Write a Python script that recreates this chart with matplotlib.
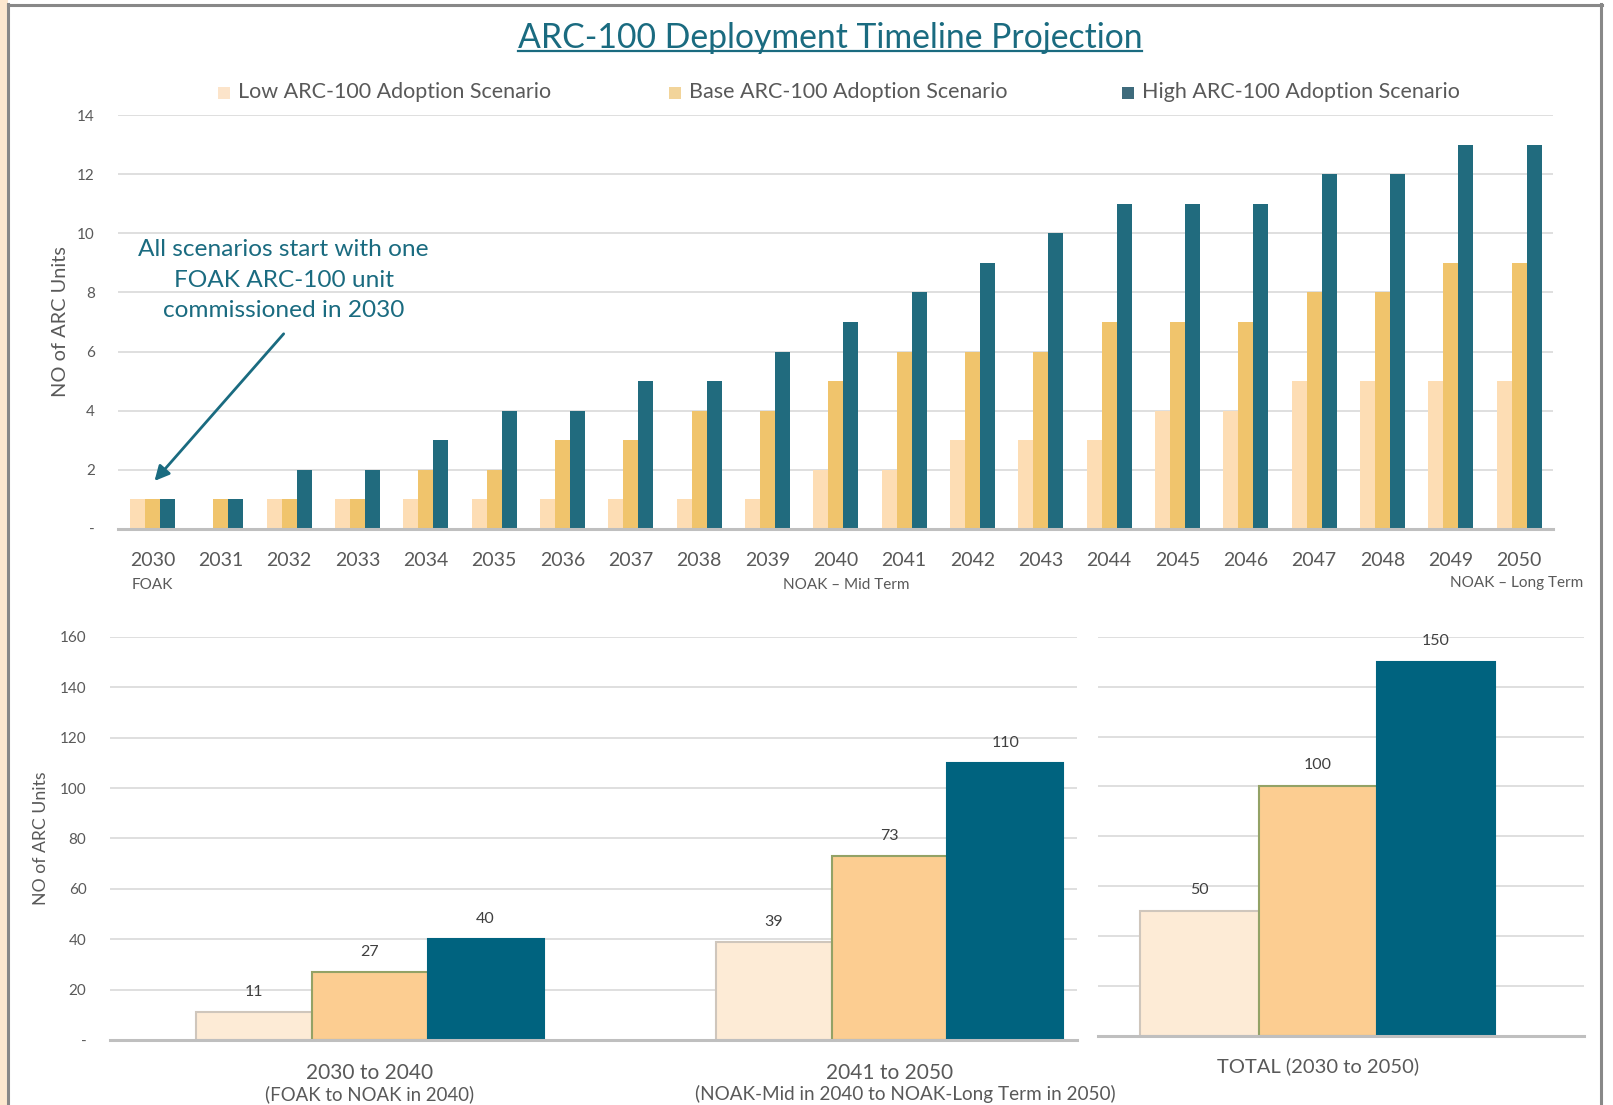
import matplotlib
matplotlib.use("Agg")
import matplotlib.pyplot as plt
import numpy as np
from matplotlib.patches import Rectangle
from matplotlib.lines import Line2D

plt.rcParams['font.family'] = ['Lato', 'DejaVu Sans']

# ---------------- data ----------------
years = [str(y) for y in range(2030, 2051)]
low_units = [1, 0, 1, 1, 1, 1, 1, 1, 1, 1, 2, 2, 3, 3, 3, 4, 4, 5, 5, 5, 5]
base_units = [1, 1, 1, 1, 2, 2, 3, 3, 4, 4, 5, 6, 6, 6, 7, 7, 7, 8, 8, 9, 9]
high_units = [1, 1, 2, 2, 3, 4, 4, 5, 5, 6, 7, 8, 9, 10, 11, 11, 11, 12, 12, 13, 13]
series_names = ["Low ARC-100 Adoption Scenario", "Base ARC-100 Adoption Scenario",
                "High ARC-100 Adoption Scenario"]

period_labels = ["2030 to 2040", "2041 to 2050"]
period_sublabels = ["(FOAK to NOAK in 2040)", "(NOAK-Mid in 2040 to NOAK-Long Term in 2050)"]
period_low = [11, 39]
period_base = [27, 73]
period_high = [40, 110]

total_label = "TOTAL (2030 to 2050)"
total_values = [50, 100, 150]

top_yticks = [0, 2, 4, 6, 8, 10, 12, 14]
top_yticklabels = ["-", "2", "4", "6", "8", "10", "12", "14"]
bot_yticks = [0, 20, 40, 60, 80, 100, 120, 140, 160]
bot_yticklabels = ["-", "20", "40", "60", "80", "100", "120", "140", "160"]

# ---------------- style ----------------
top_colors = ["#FDDDB4", "#F0C46C", "#216B7E"]
legend_colors = ["#FCE4CA", "#F2D49A", "#3E6B7C"]
bot_colors = ["#FDEBD6", "#FCCD91", "#00637F"]
bot_edges = ["#CFC6BC", "#93A266", "#00637F"]
teal = "#1A6B80"
tick_gray = "#595959"
grid_gray = "#D9D9D9"
base_gray = "#BFBFBF"

W, H = 1613, 1105
fig = plt.figure(figsize=(W / 100, H / 100), dpi=100)
fig.patch.set_facecolor("white")

def fx(px):
    return px / W

def fy(py):
    return 1 - py / H

# borders
fig.patches.append(Rectangle((0, 0), fx(7.5), 1, transform=fig.transFigure,
                             facecolor="#FDE8CF", edgecolor="none", zorder=0))
fig.lines.append(Line2D([fx(8.3), fx(8.3)], [0, fy(4)], transform=fig.transFigure,
                        color="#888888", lw=2.2))
fig.lines.append(Line2D([fx(7.5), fx(1602)], [fy(5), fy(5)], transform=fig.transFigure,
                        color="#888888", lw=2.2))
fig.lines.append(Line2D([fx(1601), fx(1601)], [fy(4), 0], transform=fig.transFigure,
                        color="#888888", lw=2.2))

# ---------------- top chart ----------------
ax_l, ax_r = 118.3, 1553.3
ax = fig.add_axes([fx(ax_l), fy(528.8), fx(ax_r) - fx(ax_l), fy(115.2) - fy(528.8)])
x = np.arange(len(years))
bw = 0.22
for i, (vals, col) in enumerate(zip([low_units, base_units, high_units], top_colors)):
    ax.bar(x + (i - 1) * bw, vals, width=bw, color=col, edgecolor="none", zorder=3)
ax.set_xlim(-0.5, len(years) - 0.5)
ax.set_ylim(0, 14)
ax.set_yticks(top_yticks)
ax.set_yticklabels(top_yticklabels)
ax.set_xticks(x)
ax.set_xticklabels(years)
ax.tick_params(axis="both", length=0, colors=tick_gray)
ax.tick_params(axis="y", labelsize=11, pad=17)
ax.tick_params(axis="x", labelsize=14, pad=16.5)
ax.grid(axis="y", color=grid_gray, lw=1.2, zorder=0)
for s in ["top", "right", "left"]:
    ax.spines[s].set_visible(False)
ax.spines["bottom"].set_color(base_gray)
ax.spines["bottom"].set_linewidth(2.2)
ax.spines["bottom"].set_zorder(4)
ax.set_ylabel("NO of ARC Units", fontsize=14.4, color=tick_gray)
ax.yaxis.set_label_coords((69.5 - ax_l) / (ax_r - ax_l), 0.5)

ax.text(0, -0.135, "FOAK", transform=ax.get_xaxis_transform(), ha="center", va="center",
        fontsize=11, color=tick_gray)
ax.text(10.15, -0.137, "NOAK – Mid Term", transform=ax.get_xaxis_transform(), ha="center",
        va="center", fontsize=11, color=tick_gray)
ax.text(19.96, -0.13, "NOAK – Long Term", transform=ax.get_xaxis_transform(), ha="center",
        va="center", fontsize=11, color=tick_gray, clip_on=False)

# annotation
ax.text(1.92, 8.42, "All scenarios start with one\nFOAK ARC-100 unit\ncommissioned in 2030",
        ha="center", va="center", fontsize=17.6, color=teal, linespacing=1.57, zorder=6)
ax.annotate("", xy=(0.03, 1.62), xytext=(1.92, 6.6),
            arrowprops=dict(arrowstyle="-|>", color=teal, lw=2, mutation_scale=22,
                            shrinkA=0, shrinkB=0), zorder=6)

# legend (manual)
leg_y = 92.5
for name, col, sx in zip(series_names, legend_colors, [224, 675, 1128]):
    fig.patches.append(Rectangle((fx(sx - 6), fy(leg_y + 6)), fx(12), 12 / H,
                                 transform=fig.transFigure, facecolor=col, edgecolor="none"))
    fig.text(fx(sx + 14), fy(leg_y), name, ha="left", va="center", fontsize=15.5,
             color=tick_gray)

# title
title = fig.text(fx(830), fy(38), "ARC-100 Deployment Timeline Projection", ha="center",
                 va="center", fontsize=24.3, color=teal)

# ---------------- bottom left ----------------
b_l, b_r = 110.1, 1077.0
ax2 = fig.add_axes([fx(b_l), fy(1040), fx(b_r) - fx(b_l), fy(636.8) - fy(1040)])
xp = np.arange(len(period_labels))
bw2 = 0.2228
for i, (vals, col, ec) in enumerate(zip([period_low, period_base, period_high],
                                        bot_colors, bot_edges)):
    bars = ax2.bar(xp + (i - 1) * bw2, vals, width=bw2, color=col, edgecolor=ec, lw=1.5,
                   zorder=3)
    for b, v in zip(bars, vals):
        ax2.text(b.get_x() + b.get_width() / 2, v + 8, str(v), ha="center", va="center",
                 fontsize=11.5, color="#404040")
ax2.set_xlim(-0.5, 1.361)
ax2.set_ylim(0, 160)
ax2.set_yticks(bot_yticks)
ax2.set_yticklabels(bot_yticklabels)
ax2.set_xticks([])
ax2.tick_params(axis="both", length=0, colors=tick_gray)
ax2.tick_params(axis="y", labelsize=11, pad=17)
ax2.grid(axis="y", color=grid_gray, lw=1.2, zorder=0)
for s in ["top", "right", "left"]:
    ax2.spines[s].set_visible(False)
ax2.spines["bottom"].set_color(base_gray)
ax2.spines["bottom"].set_linewidth(2.2)
ax2.spines["bottom"].set_zorder(4)
ax2.set_ylabel("NO of ARC Units", fontsize=12.7, color=tick_gray)
ax2.yaxis.set_label_coords((48.5 - b_l) / (b_r - b_l), 0.5)
for xi, lab in zip(xp, period_labels):
    ax2.text(xi, -0.083, lab, transform=ax2.get_xaxis_transform(), ha="center",
             va="center", fontsize=15, color=tick_gray)
ax2.text(0, -0.134, period_sublabels[0], transform=ax2.get_xaxis_transform(), ha="center",
         va="center", fontsize=13.4, color=tick_gray)
ax2.text(1.03, -0.134, period_sublabels[1], transform=ax2.get_xaxis_transform(), ha="center",
         va="center", fontsize=13.6, color=tick_gray)

# ---------------- bottom right ----------------
ax3 = fig.add_axes([fx(1097.6), fy(1035.9), fx(1584.2) - fx(1097.6), fy(636.8) - fy(1035.9)])
bw3 = 0.243
for i, (v, col, ec) in enumerate(zip(total_values, bot_colors, bot_edges)):
    b = ax3.bar([(i - 1) * bw3], [v], width=bw3, color=col, edgecolor=ec, lw=1.5, zorder=3)[0]
    ax3.text(b.get_x() + b.get_width() / 2, v + 8.5, str(v), ha="center", va="center",
             fontsize=11.5, color="#404040")
ax3.set_xlim(-0.4524, 0.5476)
ax3.set_ylim(0, 160)
ax3.set_yticks(bot_yticks)
ax3.set_yticklabels([])
ax3.set_xticks([])
ax3.tick_params(axis="both", length=0)
ax3.grid(axis="y", color=grid_gray, lw=1.2, zorder=0)
for s in ["top", "right", "left"]:
    ax3.spines[s].set_visible(False)
ax3.spines["bottom"].set_color(base_gray)
ax3.spines["bottom"].set_linewidth(2.2)
ax3.spines["bottom"].set_zorder(4)
ax3.text(0, -0.075, total_label, transform=ax3.get_xaxis_transform(), ha="center",
         va="center", fontsize=14.5, color=tick_gray)

# underline title
fig.canvas.draw()
bb = title.get_window_extent(renderer=fig.canvas.get_renderer())
uy = fy(51)
fig.lines.append(Line2D([bb.x0 / W, bb.x1 / W], [uy, uy], transform=fig.transFigure,
                        color=teal, lw=1.6))

fig.savefig("out.png", dpi=100, facecolor="white")
